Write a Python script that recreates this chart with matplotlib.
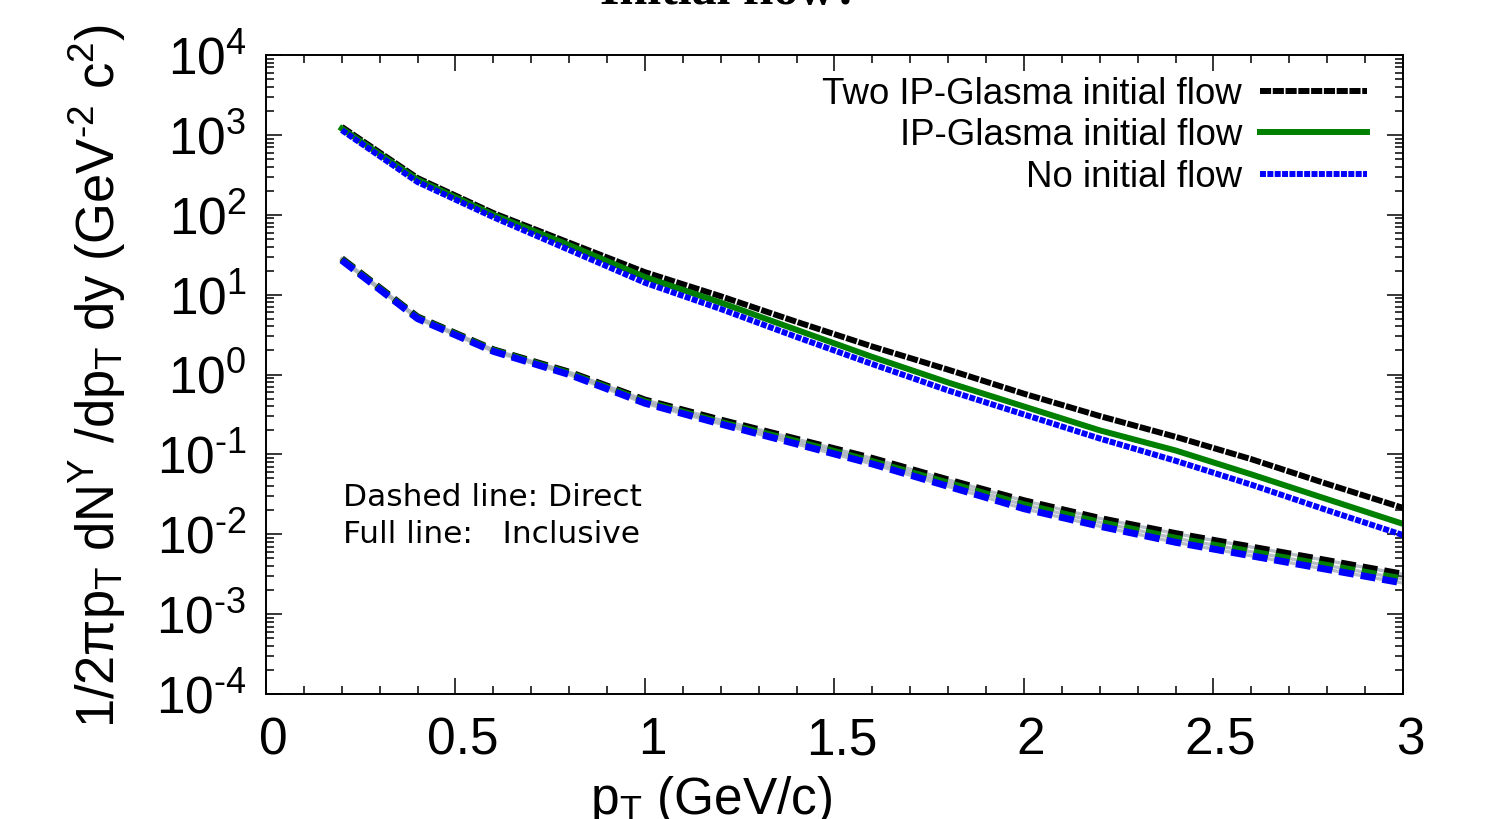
import numpy as np
import matplotlib
matplotlib.use("Agg")
import matplotlib.pyplot as plt
import matplotlib.transforms as mtransforms
from matplotlib.ticker import LogLocator, FuncFormatter, MultipleLocator, NullFormatter

plt.rcParams['font.family'] = ['Liberation Sans', 'DejaVu Sans']
plt.rcParams['mathtext.fontset'] = 'custom'
plt.rcParams['mathtext.rm'] = 'Liberation Sans'
plt.rcParams['mathtext.it'] = 'Liberation Sans:italic'
plt.rcParams['mathtext.bf'] = 'Liberation Sans:bold'
plt.rcParams['lines.scale_dashes'] = False

# transverse momentum grid (GeV/c)
pt = [0.2, 0.4, 0.6, 0.8, 1.0, 1.2, 1.4, 1.6, 1.8, 2.0, 2.2, 2.4, 2.6, 2.8, 3.0]

# inclusive photon spectra
incl_two_ipg = [1260, 288, 105, 44.7, 19.1, 9.55, 4.57, 2.24, 1.15, 0.575,
                0.302, 0.166, 0.0871, 0.0427, 0.0214]
incl_ipg = [1202, 275, 100, 41.7, 16.6, 7.94, 3.63, 1.66, 0.794, 0.398,
            0.200, 0.112, 0.0562, 0.0275, 0.0135]
incl_none = [1148, 257, 93.3, 36.3, 14.1, 6.61, 2.95, 1.35, 0.631, 0.316,
             0.158, 0.0832, 0.0417, 0.0200, 0.00977]

# direct photon spectra
dir_two_ipg = [28.2, 5.25, 2.04, 1.07, 0.479, 0.269, 0.155, 0.0891, 0.0479,
               0.0263, 0.0158, 0.0102, 0.00692, 0.00468, 0.00316]
dir_ipg = [27.5, 5.13, 2.00, 1.035, 0.457, 0.251, 0.145, 0.0813, 0.0437,
           0.0234, 0.0141, 0.00891, 0.00603, 0.00407, 0.00275]
dir_none = [26.9, 5.01, 1.95, 1.00, 0.437, 0.240, 0.135, 0.0759, 0.0398,
            0.0209, 0.0126, 0.00794, 0.00537, 0.00363, 0.00245]

labels = ["Two IP-Glasma initial flow", "IP-Glasma initial flow", "No initial flow"]

HY = "\u2010"  # typographic hyphen, kept out of mathtext's minus conversion

fig = plt.figure(figsize=(14.9, 8.19), dpi=100)
ax = fig.add_axes([0.1785, 0.1526, 0.7631, 0.7802])

lw = 4.3
# inclusive: full lines
h1, = ax.plot(pt, incl_two_ipg, color='black', lw=lw, dashes=(8.0, 1.2),
              solid_capstyle='butt', dash_capstyle='butt', label=labels[0])
h2, = ax.plot(pt, incl_ipg, color='#008000', lw=lw, label=labels[1])
h3, = ax.plot(pt, incl_none, color='#0000ff', lw=lw, dashes=(4.3, 1.0),
              dash_capstyle='butt', label=labels[2])

# direct: dashed lines over a thin grey guide
for ys in (dir_two_ipg, dir_ipg, dir_none):
    ax.plot(pt, ys, color='#a8b0b8', lw=2.4, alpha=0.8)
ax.plot(pt, dir_two_ipg, color='black', lw=5.0, dashes=(10.8, 5.0), dash_capstyle='butt')
ax.plot(pt, dir_ipg, color='#008000', lw=5.0, dashes=(10.8, 5.0), dash_capstyle='butt')
ax.plot(pt, dir_none, color='#0000ff', lw=5.0, dashes=(10.8, 5.0), dash_capstyle='butt')

ax.set_yscale('log')
ax.set_xlim(0, 3)
ax.set_ylim(1e-4, 1e4)


def log_label(v, _):
    e = int(round(np.log10(v)))
    s = str(e).replace("-", HY)
    return r"$\mathregular{10^{%s}}$" % s


ax.xaxis.set_major_locator(MultipleLocator(0.5))
ax.xaxis.set_minor_locator(MultipleLocator(0.1))
ax.xaxis.set_major_formatter(FuncFormatter(lambda v, _: f"{v:g}"))
ax.yaxis.set_major_locator(LogLocator(base=10, numticks=20))
ax.yaxis.set_minor_locator(LogLocator(base=10, subs=np.arange(2, 10), numticks=20))
ax.yaxis.set_minor_formatter(NullFormatter())
ax.yaxis.set_major_formatter(FuncFormatter(log_label))

ax.tick_params(which='both', direction='in', top=True, right=True, width=1.1)
ax.tick_params(which='major', length=11.5, labelsize=37)
ax.tick_params(which='minor', length=5.8)
ax.tick_params(axis='x', which='major', pad=16)
ax.tick_params(axis='y', which='major', pad=14)
for s in ax.spines.values():
    s.set_linewidth(1.4)

# x tick labels sit a little right of their ticks
shift = mtransforms.ScaledTranslation(7 / 100, 0, fig.dpi_scale_trans)
for lab in ax.get_xticklabels():
    lab.set_transform(lab.get_transform() + shift)

leg = ax.legend(handles=[h1, h2, h3], loc='upper right', bbox_to_anchor=(0.968, 0.966),
                frameon=False, fontsize=26.4, markerfirst=False, handlelength=2.9,
                handletextpad=0.5, labelspacing=0.175, borderpad=0, borderaxespad=0)

ax.text(0.203, 0.308, "Dashed line: Direct", transform=ax.get_xaxis_transform(),
        family='DejaVu Sans', fontsize=22.5, va='center', ha='left')
ax.text(0.203, 0.249, "Full line:   Inclusive", transform=ax.get_xaxis_transform(),
        family='DejaVu Sans', fontsize=22.5, va='center', ha='left')

fig.text(97 / 1490, 0.541,
         r"1/2πp$_{\mathrm{T}}$ dN$^{\mathrm{Y}}$ /dp$_{\mathrm{T}}$ dy (GeV$^{\mathrm{%s2}}$ c$^{\mathrm{2}}$)" % HY,
         rotation=90, ha='center', va='center', fontsize=37.8)
fig.text(711 / 1490, 1 - 814 / 819, r"p$_{\mathrm{T}}$ (GeV/c)",
         ha='center', va='baseline', fontsize=37)
fig.text(730 / 1490, 1 - 4 / 819, "Initial flow?", ha='center', va='baseline',
         fontsize=36, family='Liberation Serif', weight='bold')

fig.savefig("out.png", dpi=100)
